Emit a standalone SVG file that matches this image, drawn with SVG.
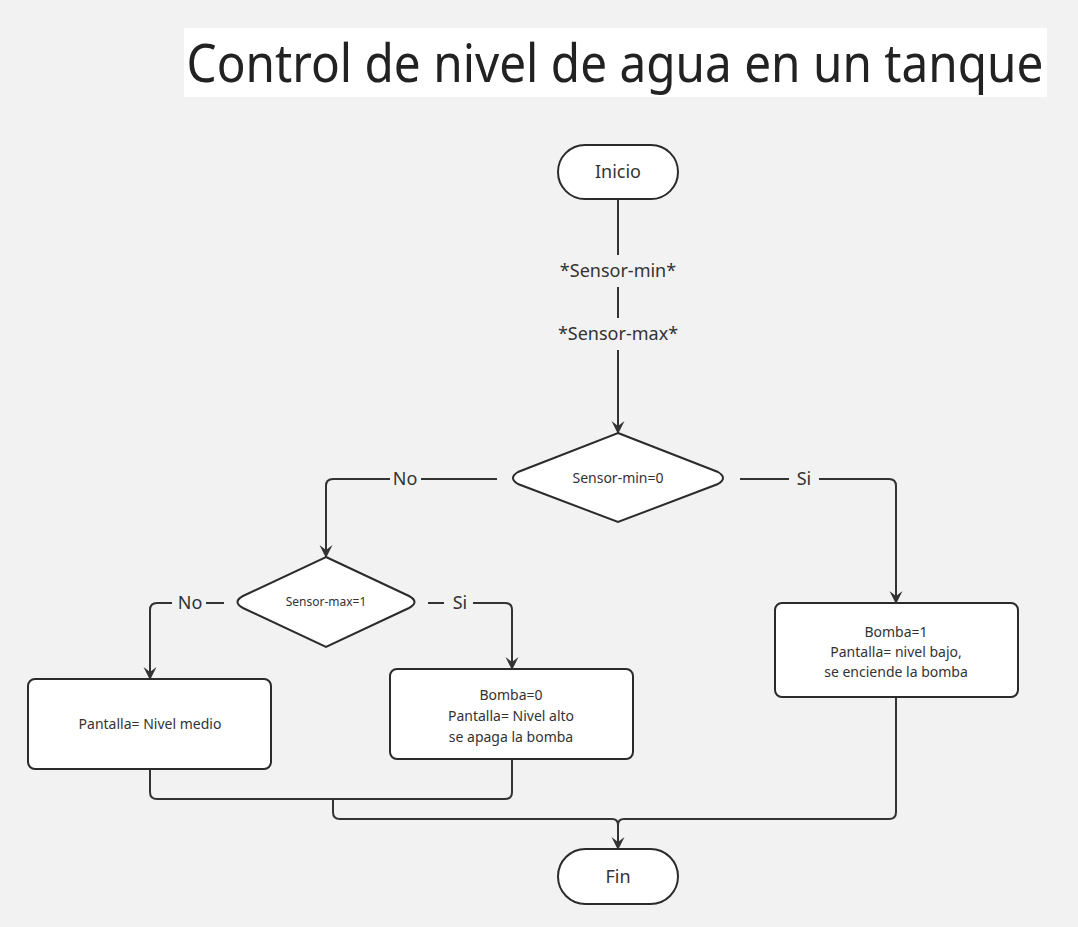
<svg xmlns="http://www.w3.org/2000/svg" width="1078" height="927" viewBox="0 0 1078 927">
<style>
.bg{fill:#f2f2f2}
.node{fill:#ffffff;stroke:#2b2b2b;stroke-width:2}
.conn{fill:none;stroke:#333333;stroke-width:2}
.t{font-family:"Noto Sans","Open Sans","DejaVu Sans",sans-serif;fill:#333333;text-anchor:middle}
.lbl{font-size:18px}
.nt{font-size:14px}
.term{font-size:18px}
</style>
<defs>
<marker id="arr" markerUnits="userSpaceOnUse" markerWidth="14" markerHeight="14" viewBox="0 0 14 14" refX="13" refY="7" orient="auto">
<path d="M1,0.5 L6,7 L1,13.5 L14,7 Z" fill="#333333"/>
</marker>
</defs>
<rect class="bg" x="0" y="0" width="1078" height="927"/>
<g id="title">
<rect x="184" y="28" width="863" height="69" fill="#ffffff"/>
<text x="615" y="82" font-family="'Noto Sans','Open Sans',sans-serif" font-size="52" fill="#222222" text-anchor="middle" textLength="857" lengthAdjust="spacingAndGlyphs">Control de nivel de agua en un tanque</text>
</g>
<g id="connectors">
<path class="conn" d="M618,199 V255"/>
<path class="conn" d="M618,287 V318"/>
<path class="conn" d="M618,350 V433" marker-end="url(#arr)"/>
<text class="t lbl" x="618" y="277">*Sensor-min*</text>
<text class="t lbl" x="618" y="340">*Sensor-max*</text>
<path class="conn" d="M497,479 H421"/>
<path class="conn" d="M390,479 H333 Q326,479 326,486 V557" marker-end="url(#arr)"/>
<text class="t lbl" x="405" y="485">No</text>
<path class="conn" d="M740,479 H789"/>
<path class="conn" d="M819,479 H889 Q896,479 896,486 V603" marker-end="url(#arr)"/>
<text class="t lbl" x="804" y="485">Si</text>
<path class="conn" d="M224,603 H206"/>
<path class="conn" d="M172,603 H157 Q150,603 150,610 V679" marker-end="url(#arr)"/>
<text class="t lbl" x="190" y="609">No</text>
<path class="conn" d="M428,603 H444"/>
<path class="conn" d="M473,603 H505 Q512,603 512,610 V669" marker-end="url(#arr)"/>
<text class="t lbl" x="460" y="609">Si</text>
<path class="conn" d="M150,769 V792 Q150,799 157,799 H505 Q512,799 512,792 V759"/>
<path class="conn" d="M333,799 V812 Q333,819 340,819 H612 Q618,819 618,825 V849" marker-end="url(#arr)"/>
<path class="conn" d="M896,697 V812 Q896,819 889,819 H624 Q618,819 618,825"/>
</g>
<g id="inicio">
<rect class="node" x="558" y="145" width="120" height="54" rx="27"/>
<text class="t term" x="618" y="178">Inicio</text>
</g>
<g id="decision-min">
<path class="node" d="M618,433 L718,472 Q728,478 718,484 L618,522 L518,484 Q508,478 518,472 Z"/>
<text class="t nt" x="618" y="483">Sensor-min=0</text>
</g>
<g id="decision-max">
<path class="node" d="M326,557 L409,596 Q420,602 409,608 L326,647 L243,608 Q232,602 243,596 Z"/>
<text class="t" font-size="12" x="326" y="606">Sensor-max=1</text>
</g>
<g id="nivel-medio">
<rect class="node" x="28" y="679" width="243" height="90" rx="7"/>
<text class="t nt" x="150" y="729">Pantalla= Nivel medio</text>
</g>
<g id="nivel-alto">
<rect class="node" x="390" y="669" width="243" height="90" rx="7"/>
<text class="t nt" x="511" y="700">Bomba=0</text>
<text class="t nt" x="511" y="721">Pantalla= Nivel alto</text>
<text class="t nt" x="511" y="742">se apaga la bomba</text>
</g>
<g id="nivel-bajo">
<rect class="node" x="775" y="603" width="243" height="94" rx="7"/>
<text class="t nt" x="896" y="637">Bomba=1</text>
<text class="t nt" x="896" y="657">Pantalla= nivel bajo,</text>
<text class="t nt" x="896" y="677">se enciende la bomba</text>
</g>
<g id="fin">
<rect class="node" x="558" y="849" width="120" height="55" rx="27.5"/>
<text class="t term" x="618" y="883">Fin</text>
</g>
</svg>
